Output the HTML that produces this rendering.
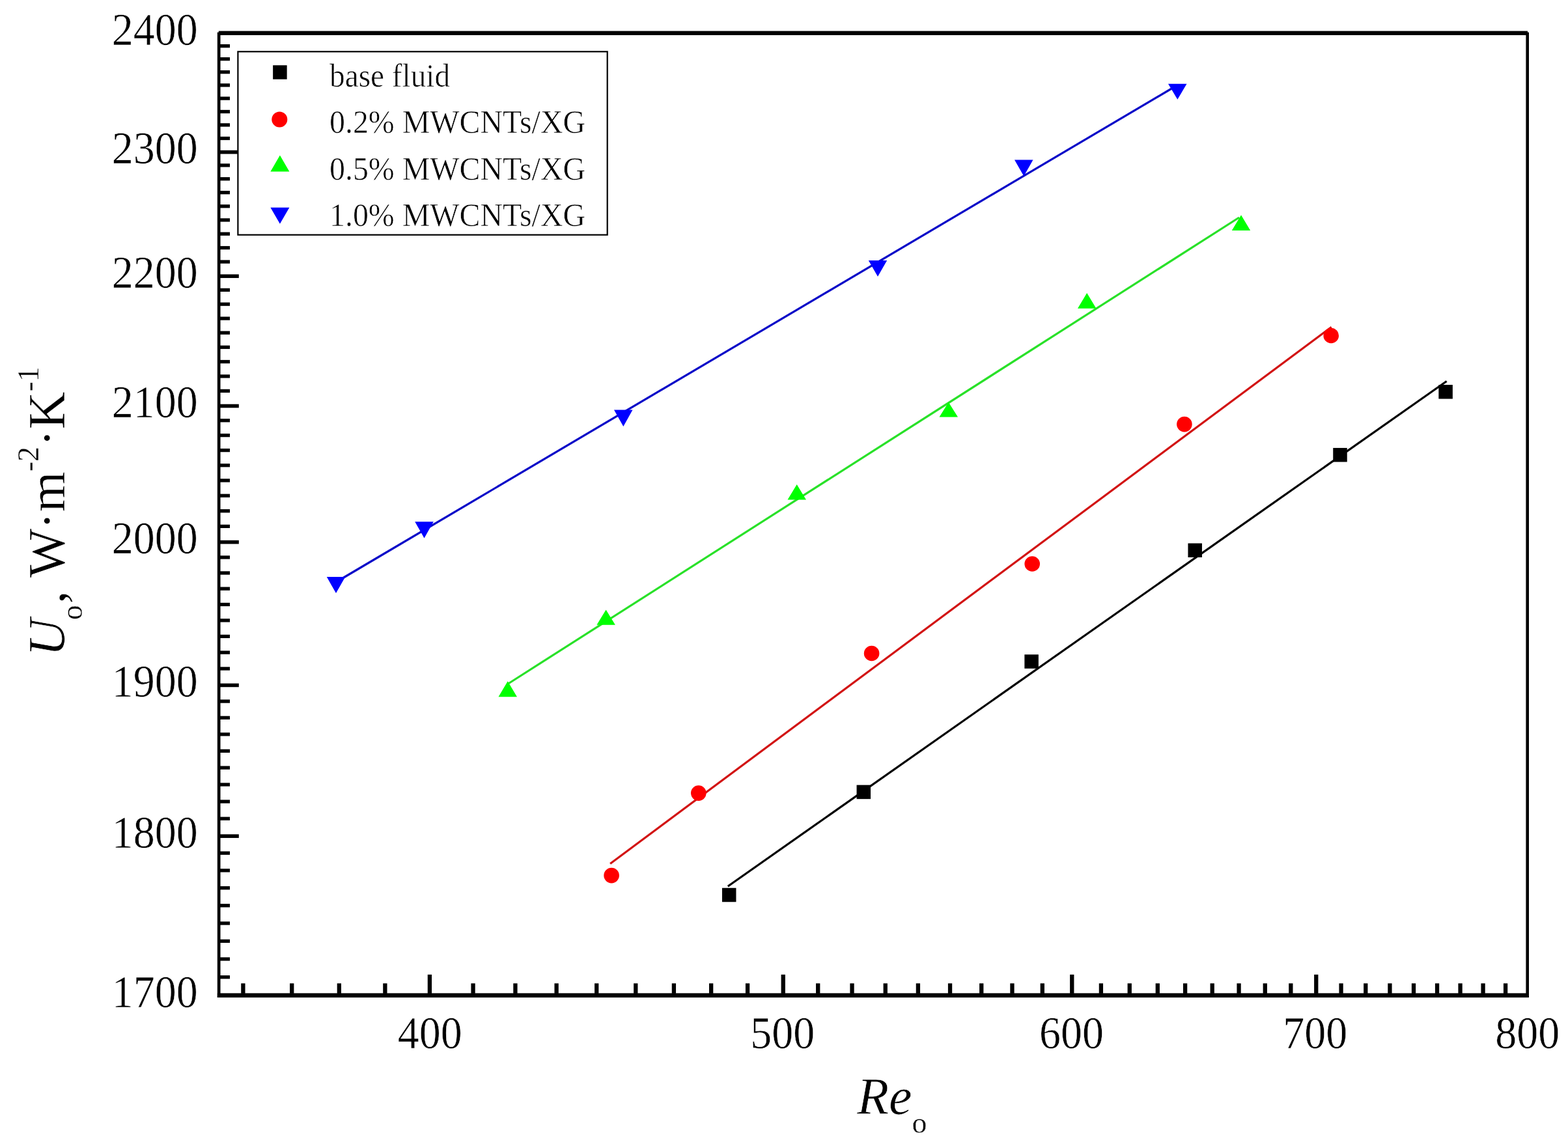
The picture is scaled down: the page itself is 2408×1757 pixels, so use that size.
<!DOCTYPE html>
<html lang="en"><head><meta charset="utf-8"><title>Uo vs Reo</title>
<style>
html,body{margin:0;padding:0;background:#fff;}
body{width:2408px;height:1757px;overflow:hidden;}
svg{display:block;}
text{font-family:'Liberation Serif', 'Times New Roman', Times, serif;fill:#000;stroke:#fff;stroke-width:0.4px;stroke-linejoin:round;}
.tk{font-size:65.9px;stroke-width:0.5px;}
.lg{font-size:47.9px;stroke-width:0.6px;}
.lg0{font-size:47.3px;stroke-width:0.6px;}
.ax{font-size:80px;stroke-width:0.6px;}
.it{font-style:italic;}
.ss{font-size:46px;stroke-width:0.4px;}
</style></head><body>
<svg width="2408" height="1757" viewBox="0 0 2408 1757">
<rect x="0" y="0" width="2408" height="1757" fill="#fff"/>
<g id="chart">
<g id="yticks">
<rect x="338.00" y="1498.03" width="15.00" height="5.30" fill="#000"/>
<rect x="338.00" y="1470.29" width="15.00" height="5.30" fill="#000"/>
<rect x="338.00" y="1442.73" width="15.00" height="5.30" fill="#000"/>
<rect x="338.00" y="1415.35" width="15.00" height="5.30" fill="#000"/>
<rect x="338.00" y="1388.14" width="15.00" height="5.30" fill="#000"/>
<rect x="338.00" y="1361.10" width="15.00" height="5.30" fill="#000"/>
<rect x="338.00" y="1334.23" width="15.00" height="5.30" fill="#000"/>
<rect x="338.00" y="1307.53" width="15.00" height="5.30" fill="#000"/>
<rect x="338.00" y="1281.34" width="28.80" height="5.60" fill="#000"/>
<rect x="338.00" y="1254.62" width="15.00" height="5.30" fill="#000"/>
<rect x="338.00" y="1228.41" width="15.00" height="5.30" fill="#000"/>
<rect x="338.00" y="1202.35" width="15.00" height="5.30" fill="#000"/>
<rect x="338.00" y="1176.46" width="15.00" height="5.30" fill="#000"/>
<rect x="338.00" y="1150.72" width="15.00" height="5.30" fill="#000"/>
<rect x="338.00" y="1125.13" width="15.00" height="5.30" fill="#000"/>
<rect x="338.00" y="1099.70" width="15.00" height="5.30" fill="#000"/>
<rect x="338.00" y="1074.42" width="15.00" height="5.30" fill="#000"/>
<rect x="338.00" y="1049.63" width="28.80" height="5.60" fill="#000"/>
<rect x="338.00" y="1024.29" width="15.00" height="5.30" fill="#000"/>
<rect x="338.00" y="999.45" width="15.00" height="5.30" fill="#000"/>
<rect x="338.00" y="974.75" width="15.00" height="5.30" fill="#000"/>
<rect x="338.00" y="950.19" width="15.00" height="5.30" fill="#000"/>
<rect x="338.00" y="925.77" width="15.00" height="5.30" fill="#000"/>
<rect x="338.00" y="901.49" width="15.00" height="5.30" fill="#000"/>
<rect x="338.00" y="877.34" width="15.00" height="5.30" fill="#000"/>
<rect x="338.00" y="853.33" width="15.00" height="5.30" fill="#000"/>
<rect x="338.00" y="829.81" width="28.80" height="5.60" fill="#000"/>
<rect x="338.00" y="805.72" width="15.00" height="5.30" fill="#000"/>
<rect x="338.00" y="782.10" width="15.00" height="5.30" fill="#000"/>
<rect x="338.00" y="758.62" width="15.00" height="5.30" fill="#000"/>
<rect x="338.00" y="735.27" width="15.00" height="5.30" fill="#000"/>
<rect x="338.00" y="712.04" width="15.00" height="5.30" fill="#000"/>
<rect x="338.00" y="688.93" width="15.00" height="5.30" fill="#000"/>
<rect x="338.00" y="665.95" width="15.00" height="5.30" fill="#000"/>
<rect x="338.00" y="643.10" width="15.00" height="5.30" fill="#000"/>
<rect x="338.00" y="620.71" width="28.80" height="5.60" fill="#000"/>
<rect x="338.00" y="597.75" width="15.00" height="5.30" fill="#000"/>
<rect x="338.00" y="575.25" width="15.00" height="5.30" fill="#000"/>
<rect x="338.00" y="552.87" width="15.00" height="5.30" fill="#000"/>
<rect x="338.00" y="530.61" width="15.00" height="5.30" fill="#000"/>
<rect x="338.00" y="508.46" width="15.00" height="5.30" fill="#000"/>
<rect x="338.00" y="486.43" width="15.00" height="5.30" fill="#000"/>
<rect x="338.00" y="464.51" width="15.00" height="5.30" fill="#000"/>
<rect x="338.00" y="442.70" width="15.00" height="5.30" fill="#000"/>
<rect x="338.00" y="421.35" width="28.80" height="5.60" fill="#000"/>
<rect x="338.00" y="399.41" width="15.00" height="5.30" fill="#000"/>
<rect x="338.00" y="377.92" width="15.00" height="5.30" fill="#000"/>
<rect x="338.00" y="356.55" width="15.00" height="5.30" fill="#000"/>
<rect x="338.00" y="335.28" width="15.00" height="5.30" fill="#000"/>
<rect x="338.00" y="314.12" width="15.00" height="5.30" fill="#000"/>
<rect x="338.00" y="293.06" width="15.00" height="5.30" fill="#000"/>
<rect x="338.00" y="272.10" width="15.00" height="5.30" fill="#000"/>
<rect x="338.00" y="251.25" width="15.00" height="5.30" fill="#000"/>
<rect x="338.00" y="230.84" width="28.80" height="5.60" fill="#000"/>
<rect x="338.00" y="209.84" width="15.00" height="5.30" fill="#000"/>
<rect x="338.00" y="189.29" width="15.00" height="5.30" fill="#000"/>
<rect x="338.00" y="168.83" width="15.00" height="5.30" fill="#000"/>
<rect x="338.00" y="148.47" width="15.00" height="5.30" fill="#000"/>
<rect x="338.00" y="128.21" width="15.00" height="5.30" fill="#000"/>
<rect x="338.00" y="108.04" width="15.00" height="5.30" fill="#000"/>
<rect x="338.00" y="87.97" width="15.00" height="5.30" fill="#000"/>
<rect x="338.00" y="67.99" width="15.00" height="5.30" fill="#000"/>
</g>
<g id="xticks">
<rect x="370.22" y="1510.30" width="6.30" height="15.60" fill="#000"/>
<rect x="445.08" y="1510.30" width="6.30" height="15.60" fill="#000"/>
<rect x="517.70" y="1510.30" width="6.30" height="15.60" fill="#000"/>
<rect x="588.22" y="1510.30" width="6.30" height="15.60" fill="#000"/>
<rect x="656.75" y="1496.80" width="6.30" height="29.10" fill="#000"/>
<rect x="723.40" y="1510.30" width="6.30" height="15.60" fill="#000"/>
<rect x="788.28" y="1510.30" width="6.30" height="15.60" fill="#000"/>
<rect x="851.47" y="1510.30" width="6.30" height="15.60" fill="#000"/>
<rect x="913.06" y="1510.30" width="6.30" height="15.60" fill="#000"/>
<rect x="973.13" y="1510.30" width="6.30" height="15.60" fill="#000"/>
<rect x="1031.75" y="1510.30" width="6.30" height="15.60" fill="#000"/>
<rect x="1088.99" y="1510.30" width="6.30" height="15.60" fill="#000"/>
<rect x="1144.92" y="1510.30" width="6.30" height="15.60" fill="#000"/>
<rect x="1199.59" y="1496.80" width="6.30" height="29.10" fill="#000"/>
<rect x="1253.05" y="1510.30" width="6.30" height="15.60" fill="#000"/>
<rect x="1305.37" y="1510.30" width="6.30" height="15.60" fill="#000"/>
<rect x="1356.59" y="1510.30" width="6.30" height="15.60" fill="#000"/>
<rect x="1406.75" y="1510.30" width="6.30" height="15.60" fill="#000"/>
<rect x="1455.89" y="1510.30" width="6.30" height="15.60" fill="#000"/>
<rect x="1504.07" y="1510.30" width="6.30" height="15.60" fill="#000"/>
<rect x="1551.30" y="1510.30" width="6.30" height="15.60" fill="#000"/>
<rect x="1597.64" y="1510.30" width="6.30" height="15.60" fill="#000"/>
<rect x="1643.11" y="1496.80" width="6.30" height="29.10" fill="#000"/>
<rect x="1687.75" y="1510.30" width="6.30" height="15.60" fill="#000"/>
<rect x="1731.58" y="1510.30" width="6.30" height="15.60" fill="#000"/>
<rect x="1774.64" y="1510.30" width="6.30" height="15.60" fill="#000"/>
<rect x="1816.95" y="1510.30" width="6.30" height="15.60" fill="#000"/>
<rect x="1858.54" y="1510.30" width="6.30" height="15.60" fill="#000"/>
<rect x="1899.42" y="1510.30" width="6.30" height="15.60" fill="#000"/>
<rect x="1939.63" y="1510.30" width="6.30" height="15.60" fill="#000"/>
<rect x="1979.19" y="1510.30" width="6.30" height="15.60" fill="#000"/>
<rect x="2018.11" y="1496.80" width="6.30" height="29.10" fill="#000"/>
<rect x="2056.42" y="1510.30" width="6.30" height="15.60" fill="#000"/>
<rect x="2094.14" y="1510.30" width="6.30" height="15.60" fill="#000"/>
<rect x="2131.28" y="1510.30" width="6.30" height="15.60" fill="#000"/>
<rect x="2167.86" y="1510.30" width="6.30" height="15.60" fill="#000"/>
<rect x="2203.90" y="1510.30" width="6.30" height="15.60" fill="#000"/>
<rect x="2239.42" y="1510.30" width="6.30" height="15.60" fill="#000"/>
<rect x="2274.42" y="1510.30" width="6.30" height="15.60" fill="#000"/>
<rect x="2308.93" y="1510.30" width="6.30" height="15.60" fill="#000"/>
</g>
<g id="frame">
<rect x="333.80" y="49.60" width="4.70" height="1482.40" fill="#000"/>
<rect x="335.80" y="47.60" width="2010.20" height="6.40" fill="#000"/>
<rect x="2343.40" y="49.60" width="4.60" height="1482.40" fill="#000"/>
<rect x="333.80" y="1525.40" width="2014.20" height="6.60" fill="#000"/>
</g>
<g id="ylabels">
<text class="tk" text-anchor="end" transform="translate(303.6,1546.60) scale(1,1.05)">1700</text>
<text class="tk" text-anchor="end" transform="translate(303.6,1301.64) scale(1,1.05)">1800</text>
<text class="tk" text-anchor="end" transform="translate(303.6,1069.93) scale(1,1.05)">1900</text>
<text class="tk" text-anchor="end" transform="translate(303.6,850.11) scale(1,1.05)">2000</text>
<text class="tk" text-anchor="end" transform="translate(303.6,641.01) scale(1,1.05)">2100</text>
<text class="tk" text-anchor="end" transform="translate(303.6,441.65) scale(1,1.05)">2200</text>
<text class="tk" text-anchor="end" transform="translate(303.6,251.14) scale(1,1.05)">2300</text>
<text class="tk" text-anchor="end" transform="translate(303.6,68.75) scale(1,1.05)">2400</text>
</g>
<g id="xlabels">
<text class="tk" text-anchor="middle" transform="translate(660.20,1610.4) scale(1,1.05)">400</text>
<text class="tk" text-anchor="middle" transform="translate(1201.74,1610.4) scale(1,1.05)">500</text>
<text class="tk" text-anchor="middle" transform="translate(1645.46,1610.4) scale(1,1.05)">600</text>
<text class="tk" text-anchor="middle" transform="translate(2019.76,1610.4) scale(1,1.05)">700</text>
<text class="tk" text-anchor="middle" transform="translate(2345.70,1610.4) scale(1,1.05)">800</text>
</g>
<g id="titles">
<text class="ax" transform="translate(1316.2,1711)"><tspan class="it">Re</tspan><tspan class="ss" dy="28.7">o</tspan></text>
<text class="ax" transform="translate(99,1008) rotate(-90)"><tspan class="it">U</tspan><tspan class="ss" dx="-2" dy="27">o</tspan><tspan dx="2" dy="-27">,</tspan><tspan dx="1.5"> W</tspan><tspan dx="-1.5">·m</tspan><tspan class="ss" dy="-40.5">-2</tspan><tspan dy="40.5">·K</tspan><tspan class="ss" dy="-40.5">-1</tspan></text>
</g>
<g id="series">
<line x1="1117.8" y1="1361.2" x2="2221.6" y2="585.5" stroke="#000000" stroke-width="3.2"/>
<line x1="937.1" y1="1326.5" x2="2044.7" y2="502.4" stroke="#d21414" stroke-width="3.2"/>
<line x1="779.0" y1="1051.0" x2="1903.0" y2="334.0" stroke="#28e128" stroke-width="3.2"/>
<line x1="516.0" y1="894.0" x2="1806.0" y2="132.0" stroke="#0a0ac8" stroke-width="3.2"/>
<rect x="1108.95" y="1363.75" width="21.50" height="21.50" fill="#000000"/>
<rect x="1315.55" y="1205.65" width="21.50" height="21.50" fill="#000000"/>
<rect x="1573.35" y="1005.25" width="21.50" height="21.50" fill="#000000"/>
<rect x="1824.45" y="834.45" width="21.50" height="21.50" fill="#000000"/>
<rect x="2047.25" y="687.95" width="21.50" height="21.50" fill="#000000"/>
<rect x="2209.35" y="591.05" width="21.50" height="21.50" fill="#000000"/>
<circle cx="939.1" cy="1344.6" r="11.8" fill="#ff0000"/>
<circle cx="1072.8" cy="1218.1" r="11.8" fill="#ff0000"/>
<circle cx="1338.6" cy="1003.5" r="11.8" fill="#ff0000"/>
<circle cx="1585.2" cy="866.0" r="11.8" fill="#ff0000"/>
<circle cx="1818.9" cy="651.6" r="11.8" fill="#ff0000"/>
<circle cx="2044.2" cy="515.5" r="11.8" fill="#ff0000"/>
<polygon points="779.7,1046.2 794.0,1070.2 765.5,1070.2" fill="#00ff00"/>
<polygon points="930.6,936.6 944.9,959.8 916.4,959.8" fill="#00ff00"/>
<polygon points="1223.7,744.0 1238.0,767.6 1209.5,767.6" fill="#00ff00"/>
<polygon points="1456.7,617.8 1471.0,640.5 1442.5,640.5" fill="#00ff00"/>
<polygon points="1669.2,449.9 1683.5,473.8 1655.0,473.8" fill="#00ff00"/>
<polygon points="1906.0,330.3 1920.2,354.0 1891.8,354.0" fill="#00ff00"/>
<polygon points="501.8,886.0 530.2,886.0 516.0,911.0" fill="#0000ff"/>
<polygon points="637.2,801.2 665.8,801.2 651.5,826.4" fill="#0000ff"/>
<polygon points="943.0,629.6 971.5,629.6 957.3,654.9" fill="#0000ff"/>
<polygon points="1333.8,399.9 1362.2,399.9 1348.0,424.7" fill="#0000ff"/>
<polygon points="1558.0,245.6 1586.5,245.6 1572.3,270.4" fill="#0000ff"/>
<polygon points="1794.0,128.8 1822.5,128.8 1808.3,152.8" fill="#0000ff"/>
</g>
<g id="legend">
<rect x="365.4" y="79.3" width="567.3" height="281.4" fill="#fff" stroke="#000" stroke-width="2.2"/>
<rect x="419.15" y="100.25" width="21.50" height="21.50" fill="#000000"/>
<circle cx="429.3" cy="183.6" r="12.0" fill="#ff0000"/>
<polygon points="429.9,238.6 444.4,263.5 415.4,263.5" fill="#00ff00"/>
<polygon points="415.4,318.8 444.4,318.8 429.9,343.8" fill="#0000ff"/>
<text class="lg0" transform="translate(506.0,132.9) scale(1,1.05)">base fluid</text>
<text class="lg" transform="translate(506.0,203.9) scale(1,1.04)">0.2% MWCNTs/XG</text>
<text class="lg" transform="translate(506.0,275.6) scale(1,1.04)">0.5% MWCNTs/XG</text>
<text class="lg" transform="translate(506.0,346.7) scale(1,1.04)">1.0% MWCNTs/XG</text>
</g>
</g>
</svg>
</body></html>
